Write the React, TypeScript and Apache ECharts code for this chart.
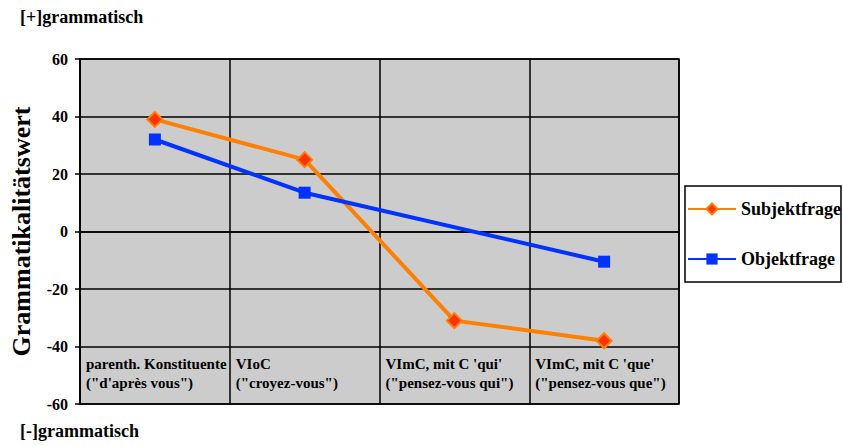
import React, { useEffect, useRef } from "react";
import * as echarts from "echarts";

const categories = [
  "parenth. Konstituente\n(\"d'après vous\")",
  "VIoC\n(\"croyez-vous\")",
  "VImC, mit C 'qui'\n(\"pensez-vous qui\")",
  "VImC, mit C 'que'\n(\"pensez-vous que\")",
];
const subjektfrage = [39, 25, -31, -38];
const objektfrage = [32, 13.5, null, -10.5];
const yTicks = { min: -60, max: 60, interval: 20 };

const FONT = "'Liberation Serif', 'Times New Roman', serif";

export default function App() {
  const ref = useRef<HTMLDivElement>(null);
  useEffect(() => {
    if (!ref.current) return;
    const chart = echarts.init(ref.current, null, { renderer: "svg" });
    chart.setOption({
      animation: false,
      backgroundColor: "#ffffff",
      grid: {
        left: 79,
        top: 59,
        right: 164,
        bottom: 42,
        show: true,
        backgroundColor: "#cccccc",
        borderColor: "#000",
        borderWidth: 1.5,
      },
      legend: {
        orient: "vertical",
        left: 685,
        top: 186,
        width: 155,
        backgroundColor: "#ffffff",
        borderColor: "#000",
        borderWidth: 1.5,
        padding: [14, 0, 14, 2],
        itemGap: 32,
        itemWidth: 48,
        itemHeight: 14,
        textStyle: { fontFamily: FONT, fontWeight: "bold", fontSize: 18, color: "#000" },
        data: ["Subjektfrage", "Objektfrage"],
      },
      xAxis: [
        {
          type: "category",
          data: categories,
          boundaryGap: true,
          axisLine: { show: true, lineStyle: { color: "#000", width: 1.5 } },
          axisTick: { show: false },
          axisLabel: { show: false },
          splitLine: { show: true, interval: 0, lineStyle: { color: "#000", width: 1.5 } },
        },
        {
          type: "category",
          position: "bottom",
          data: [...categories, ""],
          boundaryGap: false,
          axisLine: { show: false },
          axisTick: { show: false },
          splitLine: { show: false },
          axisLabel: {
            show: true,
            inside: true,
            interval: 0,
            align: "left",
            margin: 12,
            padding: [0, 0, 0, 6],
            fontFamily: FONT,
            fontWeight: "bold",
            fontSize: 15,
            lineHeight: 19,
            color: "#000",
          },
        },
      ],
      yAxis: {
        type: "value",
        min: yTicks.min,
        max: yTicks.max,
        interval: yTicks.interval,
        name: "Grammatikalitätswert",
        nameLocation: "middle",
        nameGap: 46,
        nameTextStyle: { fontFamily: FONT, fontWeight: "bold", fontSize: 26, color: "#000" },
        axisLine: { show: true, lineStyle: { color: "#000", width: 1.5 } },
        axisTick: { show: true, length: 5, lineStyle: { color: "#000", width: 1.5 } },
        axisLabel: { fontFamily: FONT, fontWeight: "bold", fontSize: 16, color: "#000", margin: 12 },
        splitLine: { show: true, lineStyle: { color: "#000", width: 1.5 } },
      },
      series: [
        {
          name: "Subjektfrage",
          type: "line",
          data: subjektfrage,
          symbol: "diamond",
          symbolSize: 15,
          lineStyle: { color: "#ff8000", width: 4 },
          itemStyle: { color: "#ff3300", borderColor: "#ff8000", borderWidth: 2 },
        },
        {
          name: "Objektfrage",
          type: "line",
          data: objektfrage,
          connectNulls: true,
          symbol: "rect",
          symbolSize: 12,
          lineStyle: { color: "#0033ff", width: 4 },
          itemStyle: { color: "#0033ff", borderWidth: 0 },
        },
      ],
      graphic: [
        {
          type: "text",
          left: 20,
          top: 8,
          style: { text: "[+]grammatisch", fontFamily: FONT, fontWeight: "bold", fontSize: 18, fill: "#000" },
        },
        {
          type: "text",
          left: 20,
          top: 422,
          style: { text: "[-]grammatisch", fontFamily: FONT, fontWeight: "bold", fontSize: 18, fill: "#000" },
        },
      ],
    });
    return () => chart.dispose();
  }, []);
  return (
    <div
      ref={ref}
      style={{ position: "absolute", left: 0, top: 0, width: 843, height: 446 }}
    />
  );
}
